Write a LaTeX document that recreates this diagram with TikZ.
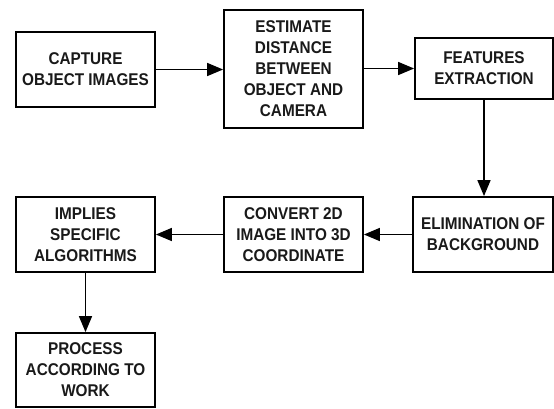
\documentclass[tikz,border=0pt]{standalone}
\usepackage{fontspec}
\setmainfont{Liberation Sans}
\newfontfamily\boxfont[BoldFont={Liberation Sans Bold}, BoldFeatures={FakeStretch=0.9}, FakeStretch=0.9]{Liberation Sans}
\usetikzlibrary{arrows.meta}
\begin{document}
\begin{tikzpicture}[x=1pt,y=-1pt,
  stepbox/.style={draw=black, line width=1.8pt, rectangle, align=center,
    font=\boxfont\bfseries\fontsize{17}{21}\selectfont, inner sep=0pt, text=black!90},
  conn/.style={line width=1.5pt, -{Triangle[length=16pt,width=13pt]}}]
\useasboundingbox (0,0) rectangle (554,408);
\node[stepbox, minimum width=139pt, minimum height=75pt] (b1) at (85.5,69.5) {CAPTURE\\OBJECT IMAGES};
\node[stepbox, minimum width=139pt, minimum height=118pt] (b2) at (293.5,69) {ESTIMATE\\DISTANCE\\BETWEEN\\OBJECT AND\\CAMERA};
\node[stepbox, minimum width=138pt, minimum height=61pt] (b3) at (484,68.5) {FEATURES\\EXTRACTION};
\node[stepbox, minimum width=140pt, minimum height=75pt] (b5) at (483,234.5) {ELIMINATION OF\\BACKGROUND};
\node[stepbox, minimum width=139pt, minimum height=75pt] (b4) at (293.5,234.5) {CONVERT 2D\\IMAGE INTO 3D\\COORDINATE};
\node[stepbox, minimum width=139pt, minimum height=75pt] (b6) at (85.5,234.5) {IMPLIES\\SPECIFIC\\ALGORITHMS};
\node[stepbox, minimum width=139pt, minimum height=74pt] (b7) at (85.5,370) {PROCESS\\ACCORDING TO\\WORK};
\draw[conn] (b1.east) -- (b1.east -| b2.west);
\draw[conn] (b2.east |- b3.west) -- (b3.west);
\draw[conn] (b3.south) -- (b3.south |- b5.north);
\draw[conn] (b5.west) -- (b4.east);
\draw[conn] (b4.west) -- (b6.east);
\draw[conn] (b6.south) -- (b7.north);
\end{tikzpicture}
\end{document}
